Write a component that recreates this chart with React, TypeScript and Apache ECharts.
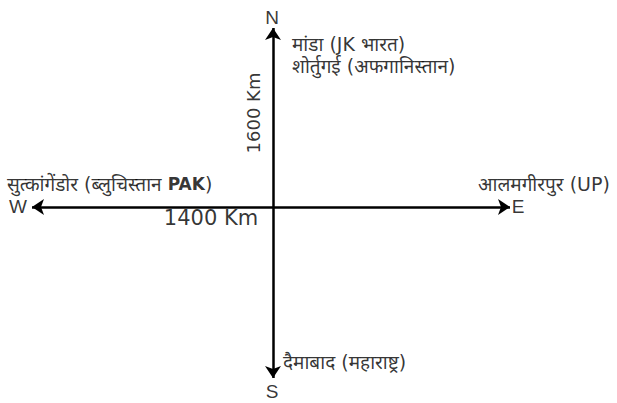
import React, { useEffect, useRef } from "react";
import * as echarts from "echarts";

// Compass diagram: centre at (0,0), arrow tips in diagram units
const directions = ["N", "S", "W", "E"];
const arrowTips: [number, number][] = [
  [0, 179],
  [0, -171],
  [-241, 0],
  [237, 0],
];
const directionLabelPos: [number, number][] = [
  [-1, 190],
  [-1, -184],
  [-255, 1],
  [245, 1],
];

const distances = ["1600 Km", "1400 Km"];
const distanceLabelPos: [number, number][] = [
  [-20, 94],
  [-62, -11],
];

const places = [
  "मांडा (JK भारत)",
  "शोर्तुगई (अफगानिस्तान)",
  "सुत्कांगेंडोर (ब्लुचिस्तान {b|PAK})",
  "आलमगीरपुर (UP)",
  "दैमाबाद (महाराष्ट्र)",
];
const placeLabelPos: [number, number][] = [
  [19, 163],
  [19, 141],
  [-266, 23],
  [205, 23],
  [10, -155],
];

const HINDI_FONT = "'DejaVu Sans', 'Noto Sans', 'Noto Sans Devanagari', sans-serif";
const LATIN_FONT = "'Liberation Sans', Arial, sans-serif";
const WIDE_FONT = "'DejaVu Sans', Verdana, sans-serif";

export default function App() {
  const ref = useRef<HTMLDivElement>(null);
  useEffect(() => {
    if (!ref.current) return;
    const chart = echarts.init(ref.current, undefined, { renderer: "svg" });
    chart.setOption({
      animation: false,
      backgroundColor: "#ffffff",
      grid: { left: 0, right: 0, top: 0, bottom: 0 },
      xAxis: { type: "value", min: -273, max: 344, show: false },
      yAxis: { type: "value", min: -196, max: 207, show: false },
      series: [
        {
          type: "lines",
          coordinateSystem: "cartesian2d",
          symbol: ["none", "arrow"],
          symbolSize: [9, 12],
          lineStyle: { color: "#000", width: 2.5, opacity: 1 },
          data: arrowTips.map((t) => ({ coords: [[0, 0], t] })),
          z: 2,
        },
        {
          type: "scatter",
          symbolSize: 0,
          data: directions.map((d, i) => ({ value: directionLabelPos[i], name: d })),
          label: {
            show: true,
            position: "inside",
            formatter: (p: any) => p.name,
            color: "#000",
            fontFamily: LATIN_FONT,
            fontSize: 19,
            align: "center",
            verticalAlign: "middle",
          },
        },
        {
          type: "scatter",
          symbolSize: 0,
          data: distances.map((d, i) => ({
            value: distanceLabelPos[i],
            name: d,
            label: i === 0 ? { rotate: 90, fontSize: 18 } : { fontSize: 21 },
          })),
          label: {
            show: true,
            position: "inside",
            formatter: (p: any) => p.name,
            color: "#000",
            fontFamily: WIDE_FONT,
            align: "center",
            verticalAlign: "middle",
          },
        },
        {
          type: "scatter",
          symbolSize: 0,
          data: places.map((d, i) => ({ value: placeLabelPos[i], name: d })),
          label: {
            show: true,
            position: "inside",
            formatter: (p: any) => p.name,
            color: "#000",
            fontFamily: HINDI_FONT,
            fontSize: 19,
            align: "left",
            verticalAlign: "middle",
            rich: {
              b: { fontFamily: WIDE_FONT, fontWeight: "bold", fontSize: 17, color: "#000" },
            },
          },
        },
      ],
    });
    return () => chart.dispose();
  }, []);
  return (
    <div
      ref={ref}
      style={{ position: "absolute", left: 0, top: 0, width: 617, height: 403 }}
    />
  );
}
